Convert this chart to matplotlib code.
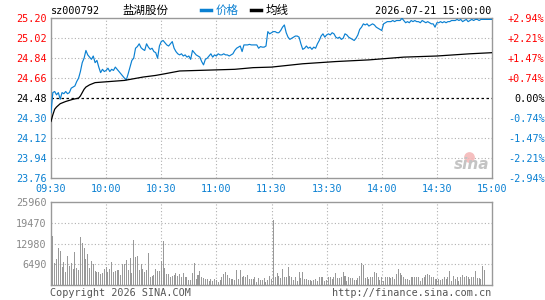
import matplotlib
matplotlib.use("Agg")
import matplotlib.pyplot as plt
import numpy as np

# ---------------- data ----------------
code = "sz000792"
name = "盐湖股份"
stamp = "2026-07-21 15:00:00"
prev_close = 24.48

price = [
    24.35, 24.53, 24.54, 24.51, 24.53, 24.47, 24.53, 24.52, 24.54, 24.52,
    24.53, 24.57, 24.58, 24.59, 24.63, 24.66, 24.72, 24.80, 24.84, 24.91,
    24.87, 24.85, 24.83, 24.86, 24.80, 24.82, 24.76, 24.71, 24.74, 24.72,
    24.73, 24.75, 24.72, 24.74, 24.73, 24.76, 24.74, 24.72, 24.70, 24.68,
    24.66, 24.645, 24.70, 24.76, 24.82, 24.84, 24.93, 24.945, 24.97, 24.935,
    24.92, 24.91, 24.97, 24.94, 24.92, 24.93, 24.90, 24.89, 24.84, 24.95,
    24.99, 25.00, 24.98, 24.96, 24.95, 24.97, 24.99, 24.93, 24.90, 24.88,
    24.87, 24.88, 24.86, 24.87, 24.85, 24.86, 24.83, 24.91, 24.89, 24.87,
    24.86, 24.85, 24.81, 24.78, 24.83, 24.84, 24.86, 24.88, 24.85, 24.87,
    24.86, 24.88, 24.87, 24.87, 24.88, 24.87, 24.87, 24.86, 24.87, 24.88,
    24.91, 24.93, 24.94, 24.95, 24.90, 24.96, 24.96, 24.96, 24.965, 24.96,
    24.96, 24.96, 24.96, 24.93, 24.945, 24.94, 24.94, 24.95, 25.08, 25.06,
    25.07, 25.08, 25.08, 25.07, 25.07, 25.09, 25.12, 25.14, 25.07, 25.03,
    25.01, 25.02, 25.03, 25.04, 25.04, 25.03, 24.97, 24.92, 24.93, 24.95,
    24.93, 24.94, 24.92, 24.94, 24.93, 24.97, 25.00, 25.04, 25.06, 25.03,
    25.05, 25.06, 25.05, 25.07, 25.06, 25.03, 25.02, 25.03, 25.01, 25.02,
    25.06, 25.05, 25.03, 25.02, 25.01, 25.00, 25.02, 25.05, 25.10, 25.12,
    25.15, 25.14, 25.15, 25.13, 25.14, 25.15, 25.14, 25.12, 25.11, 25.10,
    25.09, 25.15, 25.16, 25.17, 25.17, 25.17, 25.18, 25.17, 25.18, 25.18,
    25.18, 25.20, 25.18, 25.16, 25.17, 25.16, 25.18, 25.17, 25.18, 25.17,
    25.17, 25.16, 25.18, 25.17, 25.16, 25.17, 25.16, 25.15, 25.15, 25.12,
    25.16, 25.16, 25.17, 25.16, 25.17, 25.16, 25.17, 25.17, 25.18, 25.18,
    25.18, 25.19, 25.18, 25.19, 25.17, 25.18, 25.19, 25.17, 25.18, 25.19,
    25.18, 25.19, 25.19, 25.18, 25.19, 25.19, 25.19, 25.19, 25.19, 25.19,
    25.19,
]

avg_minutes = [0, 1, 2, 3, 5, 8, 12, 15, 16, 17, 18, 19, 21, 24, 28, 40, 45, 50,
               57, 62, 70, 90, 100, 110, 120, 137, 155, 173, 192, 210, 228, 240]
avg_price = [24.27, 24.33, 24.38, 24.40, 24.43, 24.45, 24.47, 24.48, 24.50, 24.53,
             24.56, 24.58, 24.60, 24.62, 24.625, 24.64, 24.655, 24.67, 24.685, 24.70,
             24.725, 24.735, 24.74, 24.755, 24.76, 24.79, 24.81, 24.825, 24.85, 24.86,
             24.88, 24.89]

volume = [
    25960, 15320, 7040, 8180, 11490, 10660, 5800, 7350, 4240, 9210,
    6000, 7040, 5070, 10450, 5380, 4760, 15110, 13250, 11700, 8180,
    9730, 5280, 7560, 6620, 4450, 4240, 4140, 3520, 3730, 5180,
    5800, 4240, 5180, 7140, 4240, 4550, 4660, 4760, 3210, 6620,
    6620, 7870, 4760, 8490, 3730, 14080, 8900, 9110, 4760, 6620,
    4970, 4240, 4760, 9940, 2480, 2900, 3210, 5070, 4450, 4450,
    7560, 13770, 5280, 3520, 3520, 2690, 2900, 3210, 3930, 2900,
    3420, 2690, 3930, 2480, 2480, 1660, 1550, 3730, 6830, 1860,
    3210, 4550, 2480, 2170, 2070, 1860, 1450, 1860, 1240, 1970,
    1660, 1040, 1660, 2480, 3420, 4240, 3100, 2380, 1860, 2070,
    1660, 4760, 1860, 4760, 2480, 2900, 2480, 3210, 2070, 1860,
    1860, 2480, 1140, 2170, 1660, 1660, 2170, 1140, 1660, 2900,
    1860, 20300, 2480, 3930, 2900, 2280, 4970, 2480, 2690, 5590,
    2900, 2480, 1660, 2480, 1450, 4040, 2280, 4140, 1860, 1860,
    1660, 1660, 1450, 1660, 1860, 1450, 2480, 2480, 2480, 1450,
    1660, 2690, 2480, 1970, 2480, 3930, 2380, 2170, 2480, 4240,
    2900, 1450, 2480, 2170, 2170, 1660, 1660, 2170, 2900, 6830,
    6210, 2170, 2480, 1860, 2480, 2480, 4040, 3730, 2480, 1660,
    2480, 1450, 2480, 2480, 2480, 2170, 2480, 1860, 3520, 5070,
    3730, 3100, 2480, 1860, 1860, 1660, 2480, 2480, 2480, 2480,
    2480, 1450, 2170, 2480, 3210, 3520, 3100, 2480, 2480, 1860,
    1860, 1860, 1660, 2070, 2480, 1860, 2480, 4450, 1450, 2900,
    1860, 2690, 1450, 2480, 3210, 2480, 2900, 2690, 1860, 2480,
    2480, 4450, 2170, 2170, 1860, 5900, 4760, 0, 0, 0,
    0,
]

price_ticks = [23.76, 23.94, 24.12, 24.30, 24.48, 24.66, 24.84, 25.02, 25.20]
pct_labels = ["-2.94%", "-2.21%", "-1.47%", "-0.74%", "0.00%",
              "+0.74%", "+1.47%", "+2.21%", "+2.94%"]
vol_ticks = [0, 6490, 12980, 19470, 25960]
vol_labels = ["", "6490", "12980", "19470", "25960"]
time_ticks = [0, 30, 60, 90, 120, 150, 180, 210, 240]
time_labels = ["09:30", "10:00", "10:30", "11:00", "11:30",
               "13:30", "14:00", "14:30", "15:00"]

# ---------------- style ----------------
BLUE = "#0a80d2"
RED = "#ff0000"
GREY = "#999999"
GRID = "#b0b0b0"
MONO = "DejaVu Sans Mono"
FS = 7.3

fig = plt.figure(figsize=(5.45, 3.0), dpi=100)
fig.patch.set_facecolor("white")

ax = fig.add_axes([51 / 545, 122 / 300, 441 / 545, 159.7 / 300])
axv = fig.add_axes([51 / 545, 14.7 / 300, 441 / 545, 83.6 / 300])

minutes = np.arange(len(price))

# price panel
ax.plot(minutes, price, color=BLUE, lw=0.85, zorder=3)
ax.plot(avg_minutes, avg_price, color="black", lw=0.9, zorder=3)
ax.set_xlim(0, 240)
ax.set_ylim(price_ticks[0], price_ticks[-1])
ax.set_yticks(price_ticks)
ax.set_yticklabels([f"{v:.2f}" for v in price_ticks], family=MONO, fontsize=FS)
for lbl, v in zip(ax.get_yticklabels(), price_ticks):
    lbl.set_color(RED if v > prev_close + 1e-9 else ("black" if abs(v - prev_close) < 1e-9 else BLUE))
ax.set_xticks(time_ticks)
ax.set_xticklabels(time_labels, family=MONO, fontsize=FS, color=BLUE)
ax.tick_params(length=0, pad=3)
ax.tick_params(axis="x", pad=4)
for v in price_ticks[1:-1]:
    if abs(v - prev_close) < 1e-9:
        ax.axhline(v, color="black", lw=0.9, ls=(0, (2, 2)), zorder=2)
    else:
        ax.axhline(v, color=GRID, lw=0.8, ls=(0, (1, 2)), zorder=1)
for t in time_ticks[1:-1]:
    ax.axvline(t, color=GRID, lw=0.8, ls=(0, (1, 2)), zorder=1)
for s in ax.spines.values():
    s.set_color(GREY)
    s.set_linewidth(1.0)

axr = ax.twinx()
axr.set_ylim(price_ticks[0], price_ticks[-1])
axr.set_yticks(price_ticks)
axr.set_yticklabels(pct_labels, family=MONO, fontsize=FS)
for lbl, v in zip(axr.get_yticklabels(), price_ticks):
    lbl.set_color(RED if v > prev_close + 1e-9 else ("black" if abs(v - prev_close) < 1e-9 else BLUE))
    lbl.set_horizontalalignment("right")
axr.tick_params(length=0, pad=38)
for s in axr.spines.values():
    s.set_visible(False)

# sina watermark
ax.text(0.995, 0.085, "sina", transform=ax.transAxes, ha="right", va="center",
        fontsize=11, fontweight="bold", style="italic", color="#c4c4c4",
        family="DejaVu Sans", zorder=2)
ax.scatter([0.947], [0.13], transform=ax.transAxes, s=60, color="#f4b4b4",
           alpha=0.85, zorder=1.9, linewidths=0)

# volume panel
axv.bar(np.arange(len(volume)), volume, width=0.55, color=GREY, linewidth=0)
axv.set_xlim(0, 240)
axv.set_ylim(0, vol_ticks[-1])
axv.set_yticks(vol_ticks)
axv.set_yticklabels(vol_labels, family=MONO, fontsize=FS, color="#888888")
axv.set_xticks([])
axv.tick_params(length=0, pad=3)
for v in vol_ticks[1:-1]:
    axv.axhline(v, color=GRID, lw=0.8, ls=(0, (1, 2)), zorder=0)
for t in time_ticks[1:-1]:
    axv.axvline(t, color=GRID, lw=0.8, ls=(0, (1, 2)), zorder=0)
for s in axv.spines.values():
    s.set_color(GREY)
    s.set_linewidth(1.0)

# header
fig.text(51 / 545, 1 - 10.5 / 300, code, family=MONO, fontsize=FS, ha="left", va="center")
fig.text(122 / 545, 1 - 10.5 / 300, name, family=["Noto Sans CJK SC", "DejaVu Sans"],
         fontsize=8.3, ha="left", va="center")
fig.lines.append(plt.Line2D([201 / 545, 211 / 545], [1 - 10 / 300] * 2,
                            transform=fig.transFigure, color=BLUE, lw=2.5))
fig.text(216 / 545, 1 - 10.5 / 300, "价格", family=["Noto Sans CJK SC", "DejaVu Sans"],
         fontsize=8.3, ha="left", va="center", color=BLUE)
fig.lines.append(plt.Line2D([251 / 545, 261 / 545], [1 - 10 / 300] * 2,
                            transform=fig.transFigure, color="black", lw=2.5))
fig.text(266 / 545, 1 - 10.5 / 300, "均线", family=["Noto Sans CJK SC", "DejaVu Sans"],
         fontsize=8.3, ha="left", va="center", color="black")
fig.text(491 / 545, 1 - 10.5 / 300, stamp, family=MONO, fontsize=FS, ha="right", va="center")

# footer
fig.text(50 / 545, 1 - 293 / 300, "Copyright 2026 SINA.COM", family=MONO, fontsize=FS,
         ha="left", va="center", color="#555555")
fig.text(491 / 545, 1 - 293 / 300, "http://finance.sina.com.cn", family=MONO, fontsize=FS,
         ha="right", va="center", color="#555555")

fig.savefig("out.png", dpi=100)
